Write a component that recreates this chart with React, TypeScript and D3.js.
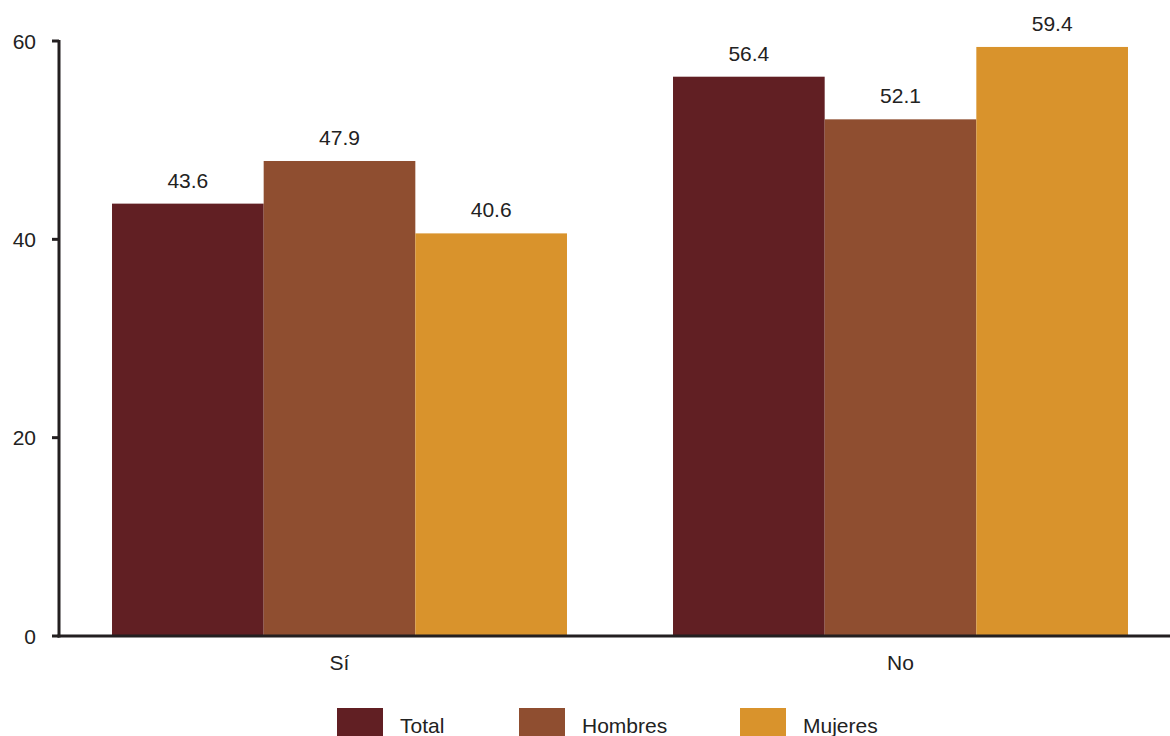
import React from "react";
import * as d3 from "d3";

const categories = ["Sí", "No"];
const seriesNames = ["Total", "Hombres", "Mujeres"];
const totalValues = [43.6, 56.4];
const hombresValues = [47.9, 52.1];
const mujeresValues = [40.6, 59.4];
const yTicks = [0, 20, 40, 60];
const colors = ["#611F23", "#8F4E30", "#D9932C"];

const W = 1170;
const H = 736;
const FONT = "'Liberation Sans', Arial, sans-serif";
const FS = 21;

export default function App() {
  const series = [totalValues, hombresValues, mujeresValues];
  const x0 = d3.scaleBand<string>().domain(categories).range([59, 1181]).paddingInner(0.189).paddingOuter(0.0945);
  const x1 = d3.scaleBand<string>().domain(seriesNames).range([0, x0.bandwidth()]);
  const y = d3.scaleLinear().domain([0, 60]).range([636, 41]);

  const legendX = [337, 519, 740];

  return (
    <svg width={W} height={H} style={{ position: "absolute", left: 0, top: 0 }} fontFamily={FONT}>
      <rect width={W} height={H} fill="#fff" />
      {categories.map((c, ci) =>
        seriesNames.map((s, si) => {
          const v = series[si][ci];
          const bx = (x0(c) ?? 0) + (x1(s) ?? 0);
          return (
            <g key={c + s}>
              <rect x={bx} y={y(v)} width={x1.bandwidth()} height={y(0) - y(v)} fill={colors[si]} />
              <text x={bx + x1.bandwidth() / 2} y={y(v) - 16} textAnchor="middle" fontSize={FS} fill="#222">
                {v.toFixed(1)}
              </text>
            </g>
          );
        })
      )}
      {/* axes */}
      <line x1={59} x2={59} y1={40} y2={637.5} stroke="#231F20" strokeWidth={3} />
      <line x1={57.5} x2={W} y1={636} y2={636} stroke="#231F20" strokeWidth={3} />
      {yTicks.map((t) => (
        <g key={t}>
          <line x1={52} x2={59} y1={y(t)} y2={y(t)} stroke="#231F20" strokeWidth={3} />
          <text x={36} y={y(t) + 7.5} textAnchor="end" fontSize={FS} fill="#222">
            {t}
          </text>
        </g>
      ))}
      {categories.map((c) => (
        <text key={c} x={(x0(c) ?? 0) + x0.bandwidth() / 2} y={670} textAnchor="middle" fontSize={FS} fill="#222">
          {c}
        </text>
      ))}
      {seriesNames.map((s, i) => (
        <g key={s}>
          <rect x={legendX[i]} y={708} width={46} height={30} fill={colors[i]} />
          <text x={legendX[i] + 63} y={733} fontSize={FS} fill="#222">
            {s}
          </text>
        </g>
      ))}
    </svg>
  );
}
